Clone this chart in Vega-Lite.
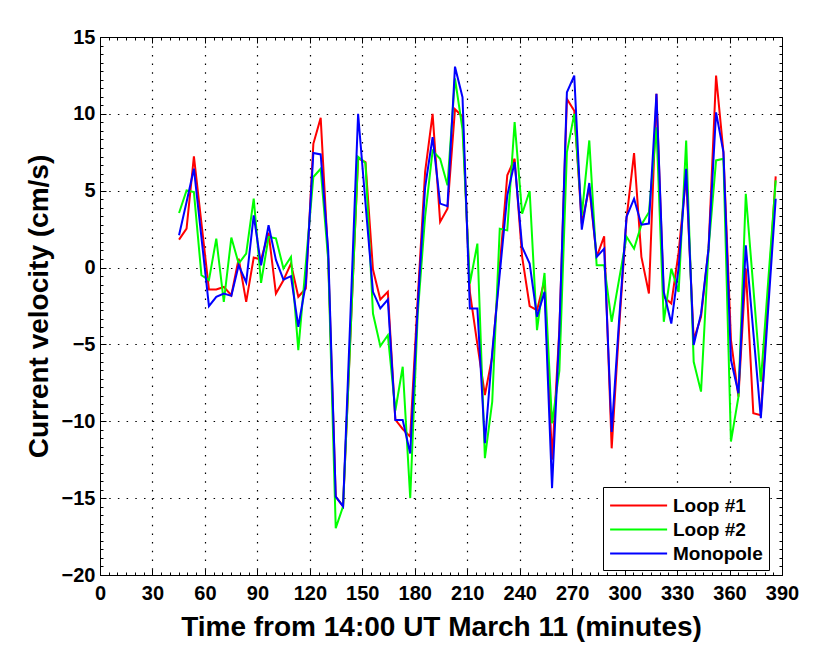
{
  "$schema": "https://vega.github.io/schema/vega-lite/v6.json",
  "autosize": "none",
  "padding": {"left": 100, "top": 37, "right": 41, "bottom": 75},
  "width": 682,
  "height": 538,
  "background": "white",
  "config": {
    "font": "Liberation Sans",
    "view": {"stroke": "black", "strokeWidth": 1}
  },
  "data": {
    "values": [
      {"t": 45.2, "Loop #1": 1.82, "Loop #2": 3.55, "Monopole": 2.1},
      {"t": 49.5, "Loop #1": 2.53, "Loop #2": 5.02, "Monopole": 4.27},
      {"t": 53.7, "Loop #1": 7.23, "Loop #2": 4.91, "Monopole": 6.43},
      {"t": 58.0, "Loop #1": 2.9, "Loop #2": -0.5, "Monopole": 1.96},
      {"t": 62.3, "Loop #1": -1.43, "Loop #2": -0.82, "Monopole": -2.51},
      {"t": 66.5, "Loop #1": -1.43, "Loop #2": 1.88, "Monopole": -1.9},
      {"t": 70.8, "Loop #1": -1.26, "Loop #2": -2.23, "Monopole": -1.69},
      {"t": 75.1, "Loop #1": -1.8, "Loop #2": 1.95, "Monopole": -1.84},
      {"t": 79.3, "Loop #1": 0.58, "Loop #2": 0.26, "Monopole": 0.15},
      {"t": 83.6, "Loop #1": -2.23, "Loop #2": 0.91, "Monopole": -0.97},
      {"t": 87.9, "Loop #1": 0.65, "Loop #2": 4.48, "Monopole": 3.4},
      {"t": 92.1, "Loop #1": 0.52, "Loop #2": -1.0, "Monopole": 0.15},
      {"t": 96.4, "Loop #1": 2.27, "Loop #2": 1.99, "Monopole": 2.75},
      {"t": 100.6, "Loop #1": -1.69, "Loop #2": 1.9, "Monopole": 0.5},
      {"t": 104.9, "Loop #1": -0.82, "Loop #2": -0.06, "Monopole": -0.78},
      {"t": 109.2, "Loop #1": 0.26, "Loop #2": 0.69, "Monopole": -0.56},
      {"t": 113.4, "Loop #1": -1.9, "Loop #2": -5.37, "Monopole": -3.85},
      {"t": 117.7, "Loop #1": -1.36, "Loop #2": 0.26, "Monopole": -1.04},
      {"t": 122.0, "Loop #1": 8.05, "Loop #2": 5.89, "Monopole": 7.45},
      {"t": 126.2, "Loop #1": 9.74, "Loop #2": 6.43, "Monopole": 7.36},
      {"t": 130.5, "Loop #1": 0.6, "Loop #2": 0.5, "Monopole": 1.1},
      {"t": 134.8, "Loop #1": -14.9, "Loop #2": -16.95, "Monopole": -14.9},
      {"t": 139.0, "Loop #1": -15.54, "Loop #2": -15.54, "Monopole": -15.54},
      {"t": 143.3, "Loop #1": -4.2, "Loop #2": -4.2, "Monopole": -2.8},
      {"t": 147.6, "Loop #1": 7.1, "Loop #2": 7.2, "Monopole": 10.0},
      {"t": 151.8, "Loop #1": 6.86, "Loop #2": 6.8, "Monopole": 4.2},
      {"t": 156.1, "Loop #1": -0.13, "Loop #2": -2.99, "Monopole": -1.58},
      {"t": 160.3, "Loop #1": -2.08, "Loop #2": -5.11, "Monopole": -2.66},
      {"t": 164.6, "Loop #1": -1.58, "Loop #2": -4.4, "Monopole": -2.08},
      {"t": 168.9, "Loop #1": -9.9, "Loop #2": -9.3, "Monopole": -9.92},
      {"t": 173.1, "Loop #1": -10.5, "Loop #2": -6.45, "Monopole": -9.92},
      {"t": 177.4, "Loop #1": -11.0, "Loop #2": -15.0, "Monopole": -12.1},
      {"t": 181.7, "Loop #1": -2.0, "Loop #2": -3.0, "Monopole": -2.5},
      {"t": 185.9, "Loop #1": 6.21, "Loop #2": 3.3, "Monopole": 5.2},
      {"t": 190.2, "Loop #1": 10.0, "Loop #2": 7.6, "Monopole": 8.48},
      {"t": 194.5, "Loop #1": 2.97, "Loop #2": 7.08, "Monopole": 4.16},
      {"t": 198.7, "Loop #1": 3.83, "Loop #2": 5.35, "Monopole": 4.0},
      {"t": 203.0, "Loop #1": 10.3, "Loop #2": 12.3, "Monopole": 13.07},
      {"t": 207.3, "Loop #1": 9.83, "Loop #2": 9.0, "Monopole": 11.08},
      {"t": 211.5, "Loop #1": -1.58, "Loop #2": -1.04, "Monopole": -2.66},
      {"t": 215.8, "Loop #1": -5.0, "Loop #2": 1.56, "Monopole": -2.66},
      {"t": 220.1, "Loop #1": -8.29, "Loop #2": -12.4, "Monopole": -11.43},
      {"t": 224.3, "Loop #1": -5.8, "Loop #2": -8.72, "Monopole": -5.5},
      {"t": 228.6, "Loop #1": 0.1, "Loop #2": 2.53, "Monopole": -0.4},
      {"t": 232.9, "Loop #1": 6.0, "Loop #2": 2.42, "Monopole": 4.7},
      {"t": 237.1, "Loop #1": 7.08, "Loop #2": 9.46, "Monopole": 6.86},
      {"t": 241.4, "Loop #1": 0.69, "Loop #2": 3.5, "Monopole": 1.34},
      {"t": 245.7, "Loop #1": -2.5, "Loop #2": 4.98, "Monopole": 0.26},
      {"t": 249.9, "Loop #1": -2.77, "Loop #2": -4.07, "Monopole": -3.2},
      {"t": 254.2, "Loop #1": -0.82, "Loop #2": -0.35, "Monopole": -1.58},
      {"t": 258.5, "Loop #1": -12.5, "Loop #2": -10.13, "Monopole": -14.35},
      {"t": 262.7, "Loop #1": -4.0, "Loop #2": -6.7, "Monopole": -4.1},
      {"t": 267.0, "Loop #1": 10.97, "Loop #2": 7.5, "Monopole": 11.4},
      {"t": 271.2, "Loop #1": 10.2, "Loop #2": 10.0, "Monopole": 12.49},
      {"t": 275.5, "Loop #1": 2.86, "Loop #2": 3.4, "Monopole": 2.47},
      {"t": 279.8, "Loop #1": 5.24, "Loop #2": 8.27, "Monopole": 5.5},
      {"t": 284.0, "Loop #1": 0.69, "Loop #2": 0.15, "Monopole": 0.69},
      {"t": 288.3, "Loop #1": 2.03, "Loop #2": 0.15, "Monopole": 1.23},
      {"t": 292.6, "Loop #1": -11.76, "Loop #2": -3.53, "Monopole": -10.7},
      {"t": 296.8, "Loop #1": -4.0, "Loop #2": -0.8, "Monopole": -3.5},
      {"t": 301.1, "Loop #1": 3.2, "Loop #2": 2.0, "Monopole": 3.3},
      {"t": 305.4, "Loop #1": 7.45, "Loop #2": 1.23, "Monopole": 4.48},
      {"t": 309.6, "Loop #1": 0.69, "Loop #2": 2.79, "Monopole": 2.79},
      {"t": 313.9, "Loop #1": -1.69, "Loop #2": 3.6, "Monopole": 2.86},
      {"t": 318.2, "Loop #1": 11.3, "Loop #2": 9.13, "Monopole": 11.3},
      {"t": 322.4, "Loop #1": -1.9, "Loop #2": -3.53, "Monopole": -1.58},
      {"t": 326.7, "Loop #1": -2.34, "Loop #2": -0.07, "Monopole": -3.64},
      {"t": 330.9, "Loop #1": 1.0, "Loop #2": -1.58, "Monopole": 0.0},
      {"t": 335.2, "Loop #1": 6.0, "Loop #2": 8.27, "Monopole": 6.43},
      {"t": 339.5, "Loop #1": -4.7, "Loop #2": -6.13, "Monopole": -5.04},
      {"t": 343.7, "Loop #1": -3.2, "Loop #2": -8.07, "Monopole": -3.0},
      {"t": 348.0, "Loop #1": 1.23, "Loop #2": 1.23, "Monopole": 1.23},
      {"t": 352.3, "Loop #1": 12.49, "Loop #2": 6.97, "Monopole": 10.1},
      {"t": 356.5, "Loop #1": 7.51, "Loop #2": 7.08, "Monopole": 7.51},
      {"t": 360.8, "Loop #1": -4.7, "Loop #2": -11.32, "Monopole": -6.0},
      {"t": 365.1, "Loop #1": -8.4, "Loop #2": -8.4, "Monopole": -8.18},
      {"t": 369.3, "Loop #1": -0.06, "Loop #2": 4.8, "Monopole": 1.45},
      {"t": 373.6, "Loop #1": -9.48, "Loop #2": -1.3, "Monopole": -4.2},
      {"t": 377.9, "Loop #1": -9.6, "Loop #2": -7.43, "Monopole": -9.8},
      {"t": 382.1, "Loop #1": -1.8, "Loop #2": -0.9, "Monopole": -2.7},
      {"t": 386.4, "Loop #1": 5.93, "Loop #2": 5.67, "Monopole": 4.48}
    ]
  },
  "transform": [{"fold": ["Loop #1", "Loop #2", "Monopole"], "as": ["series", "v"]}],
  "resolve": {"axis": {"x": "independent", "y": "independent"}},
  "layer": [
    {
      "mark": {"type": "line", "strokeOpacity": 0},
      "encoding": {
        "x": {
          "field": "t", "type": "quantitative",
          "scale": {"domain": [0, 390], "nice": false, "zero": false},
          "axis": {
            "orient": "top",
            "values": [0,5,10,15,20,25,30,35,40,45,50,55,60,65,70,75,80,85,90,95,100,105,110,115,120,125,130,135,140,145,150,155,160,165,170,175,180,185,190,195,200,205,210,215,220,225,230,235,240,245,250,255,260,265,270,275,280,285,290,295,300,305,310,315,320,325,330,335,340,345,350,355,360,365,370,375,380,385,390],
            "labels": false, "grid": false, "title": null,
            "tickColor": "black", "tickWidth": 1,
            "tickSize": {"condition": {"test": "datum.value % 30 === 0", "value": -6}, "value": -3},
            "domain": true, "domainColor": "black"
          }
        },
        "y": {
          "field": "v", "type": "quantitative",
          "scale": {"domain": [-20, 15], "nice": false, "zero": false},
          "axis": {
            "orient": "right",
            "values": [-20,-19.444,-18.889,-18.333,-17.778,-17.222,-16.667,-16.111,-15.556,-15,-14.444,-13.889,-13.333,-12.778,-12.222,-11.667,-11.111,-10.556,-10,-9.444,-8.889,-8.333,-7.778,-7.222,-6.667,-6.111,-5.556,-5,-4.444,-3.889,-3.333,-2.778,-2.222,-1.667,-1.111,-0.556,0,0.556,1.111,1.667,2.222,2.778,3.333,3.889,4.444,5,5.556,6.111,6.667,7.222,7.778,8.333,8.889,9.444,10,10.556,11.111,11.667,12.222,12.778,13.333,13.889,14.444,15],
            "labels": false, "grid": false, "title": null,
            "tickColor": "black", "tickWidth": 1,
            "tickSize": {"condition": {"test": "datum.value % 5 === 0", "value": -6}, "value": -3},
            "domain": true, "domainColor": "black"
          }
        }
      }
    },
    {
      "mark": {"type": "line", "strokeWidth": 2, "clip": true},
      "encoding": {
        "x": {
          "field": "t", "type": "quantitative",
          "scale": {"domain": [0, 390], "nice": false, "zero": false},
          "axis": {
            "orient": "bottom",
            "values": [0,5,10,15,20,25,30,35,40,45,50,55,60,65,70,75,80,85,90,95,100,105,110,115,120,125,130,135,140,145,150,155,160,165,170,175,180,185,190,195,200,205,210,215,220,225,230,235,240,245,250,255,260,265,270,275,280,285,290,295,300,305,310,315,320,325,330,335,340,345,350,355,360,365,370,375,380,385,390],
            "labelExpr": "datum.value % 30 === 0 ? datum.label : ''",
            "labelFont": "Liberation Sans", "labelFontWeight": "bold", "labelColor": "black",
            "labelFontSize": {"condition": {"test": "datum.value % 30 === 0", "value": 20}, "value": 0},
            "labelPadding": 14, "labelFlush": false, "labelOverlap": false,
            "tickColor": "black", "tickWidth": 1,
            "tickSize": {"condition": {"test": "datum.value % 30 === 0", "value": -6}, "value": -3},
            "domain": true, "domainColor": "black",
            "grid": true, "gridColor": "black", "gridDash": [1.5, 7.2], "gridWidth": 1.2,
            "gridOpacity": {"condition": {"test": "datum.value % 30 === 0 && datum.value > 0 && datum.value < 390", "value": 1}, "value": 0},
            "title": "Time from 14:00 UT March 11 (minutes)",
            "titleFont": "Liberation Sans", "titleFontWeight": "bold", "titleFontSize": 28, "titleColor": "black", "titlePadding": 10
          }
        },
        "y": {
          "field": "v", "type": "quantitative",
          "scale": {"domain": [-20, 15], "nice": false, "zero": false},
          "axis": {
            "orient": "left",
            "values": [-20,-19.444,-18.889,-18.333,-17.778,-17.222,-16.667,-16.111,-15.556,-15,-14.444,-13.889,-13.333,-12.778,-12.222,-11.667,-11.111,-10.556,-10,-9.444,-8.889,-8.333,-7.778,-7.222,-6.667,-6.111,-5.556,-5,-4.444,-3.889,-3.333,-2.778,-2.222,-1.667,-1.111,-0.556,0,0.556,1.111,1.667,2.222,2.778,3.333,3.889,4.444,5,5.556,6.111,6.667,7.222,7.778,8.333,8.889,9.444,10,10.556,11.111,11.667,12.222,12.778,13.333,13.889,14.444,15],
            "labelExpr": "datum.value % 5 === 0 ? format(datum.value, 'd') : ''",
            "labelFont": "Liberation Sans", "labelFontWeight": "bold", "labelColor": "black",
            "labelFontSize": {"condition": {"test": "datum.value % 5 === 0", "value": 20}, "value": 0},
            "labelPadding": 11, "labelFlush": false, "labelOverlap": false,
            "tickColor": "black", "tickWidth": 1,
            "tickSize": {"condition": {"test": "datum.value % 5 === 0", "value": -6}, "value": -3},
            "domain": true, "domainColor": "black",
            "grid": true, "gridColor": "black", "gridDash": [1.5, 7.2], "gridWidth": 1.2,
            "gridOpacity": {"condition": {"test": "datum.value % 5 === 0 && datum.value > -20 && datum.value < 15", "value": 1}, "value": 0},
            "title": "Current velocity (cm/s)",
            "titleFont": "Liberation Sans", "titleFontWeight": "bold", "titleFontSize": 28, "titleColor": "black", "titlePadding": 8
          }
        },
        "color": {
          "field": "series", "type": "nominal",
          "scale": {"domain": ["Loop #1", "Loop #2", "Monopole"], "range": ["#ff0000", "#00ff00", "#0000ff"]},
          "legend": {
            "title": null, "orient": "none", "legendX": 503, "legendY": 450,
            "symbolType": "M-1,0H4", "symbolSize": 520, "symbolStrokeWidth": 2,
            "labelFont": "Liberation Sans", "labelFontWeight": "bold", "labelFontSize": 19, "labelColor": "black",
            "labelOffset": 39, "strokeColor": "black", "fillColor": "white", "padding": 6, "rowPadding": 1
          }
        }
      }
    }
  ]
}
